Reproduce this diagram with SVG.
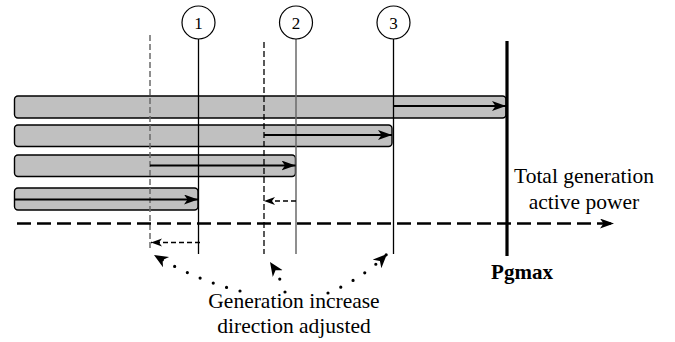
<svg xmlns="http://www.w3.org/2000/svg" width="675" height="342" viewBox="0 0 675 342">
  <style>
    .bar { fill: #c0c0c0; stroke: #000; stroke-width: 1.4; }
    .lvl { stroke: #000; stroke-width: 1.3; fill: none; }
    .lvl-gray { stroke: #6a6a6a; stroke-width: 1.5; fill: none; }
    .shift { stroke: #000; stroke-width: 1.3; stroke-dasharray: 6 3; fill: none; }
    .shift-gray { stroke: #6a6a6a; stroke-width: 1.5; stroke-dasharray: 6 3; fill: none; }
    .push { stroke: #000; stroke-width: 2.2; fill: none; }
    .back { stroke: #000; stroke-width: 1.3; stroke-dasharray: 5 3; fill: none; }
    .axis { stroke: #000; stroke-width: 2.6; stroke-dasharray: 14 6; fill: none; }
    .limit { stroke: #000; stroke-width: 3.2; fill: none; }
    .dots { stroke: #000; stroke-width: 3.2; stroke-linecap: round; stroke-dasharray: 0 14; fill: none; }
    .badge { fill: #fff; stroke: #000; stroke-width: 1.2; }
    .num { font-family: "Liberation Serif", "DejaVu Serif", serif; font-size: 17px; text-anchor: middle; fill: #000; }
    .lbl { font-family: "Liberation Serif", "DejaVu Serif", serif; font-size: 21.5px; text-anchor: middle; fill: #000; }
    .lbl-b { font-family: "Liberation Serif", "DejaVu Serif", serif; font-size: 21px; font-weight: bold; text-anchor: middle; fill: #000; }
  </style>
  <defs>
    <marker id="head" markerUnits="userSpaceOnUse" markerWidth="16" markerHeight="12" refX="14" refY="5" orient="auto">
      <path d="M0,0 L14,5 L0,10 L3.5,5 z" fill="#000"/>
    </marker>
    <marker id="head-sm" markerUnits="userSpaceOnUse" markerWidth="14" markerHeight="10" refX="11" refY="4" orient="auto">
      <path d="M0,0 L11,4 L0,8 L3,4 z" fill="#000"/>
    </marker>
    <marker id="head-dot" markerUnits="userSpaceOnUse" markerWidth="16" markerHeight="14" refX="14" refY="6" orient="auto">
      <path d="M0,0 L14,6 L0,12 L4,6 z" fill="#000"/>
    </marker>
  </defs>

  <!-- generator bars -->
  <g id="bar1"><rect class="bar" x="14.5" y="96" width="491.5" height="22" rx="3.5"/></g>
  <g id="bar2"><rect class="bar" x="14.5" y="125" width="377.5" height="21.5" rx="3.5"/></g>
  <g id="bar3"><rect class="bar" x="14.5" y="155" width="281" height="21.5" rx="3.5"/></g>
  <g id="bar4"><rect class="bar" x="14.5" y="188" width="183.5" height="22" rx="3.5"/></g>

  <!-- numbered levels -->
  <g id="level1">
    <line class="lvl" x1="198.5" y1="39" x2="198.5" y2="254"/>
    <circle class="badge" cx="198.5" cy="22.5" r="16.5"/>
    <text class="num" x="198.5" y="28.5">1</text>
  </g>
  <g id="level2">
    <line class="lvl-gray" x1="296" y1="39" x2="296" y2="254"/>
    <circle class="badge" cx="296" cy="22.5" r="16.5"/>
    <text class="num" x="296" y="28.5">2</text>
  </g>
  <g id="level3">
    <line class="lvl" x1="393.5" y1="39" x2="393.5" y2="254"/>
    <circle class="badge" cx="393.5" cy="22.5" r="16.5"/>
    <text class="num" x="393.5" y="28.5">3</text>
  </g>

  <!-- Pgmax limit -->
  <g id="pgmax">
    <line class="limit" x1="507" y1="41" x2="507" y2="256"/>
    <text class="lbl-b" x="522" y="279">Pgmax</text>
  </g>

  <!-- axis label -->
  <g id="axis-label">
    <text class="lbl" x="584" y="183">Total generation</text>
    <text class="lbl" x="584" y="209">active power</text>
  </g>

  <!-- note -->
  <g id="note">
    <text class="lbl" x="294" y="308">Generation increase</text>
    <text class="lbl" x="294" y="333">direction adjusted</text>
  </g>

  <!-- connectors -->
  <g id="connectors">
    <!-- shifted start lines -->
    <line class="shift-gray" x1="150" y1="35" x2="150" y2="250"/>
    <line class="shift" x1="264" y1="42" x2="264" y2="254"/>

    <!-- total generation axis -->
    <line class="axis" x1="17" y1="223.5" x2="614" y2="223.5" marker-end="url(#head)"/>

    <!-- increase arrows inside bars -->
    <line class="push" x1="14.5" y1="199.5" x2="198" y2="199.5" marker-end="url(#head)"/>
    <line class="push" x1="150" y1="165.5" x2="295.5" y2="165.5" marker-end="url(#head)"/>
    <line class="push" x1="264" y1="135" x2="392" y2="135" marker-end="url(#head)"/>
    <line class="push" x1="393.5" y1="106" x2="506" y2="106" marker-end="url(#head)"/>

    <!-- backward shifts -->
    <line class="back" x1="296" y1="201" x2="264" y2="201" marker-end="url(#head-sm)"/>
    <line class="back" x1="200" y1="242.5" x2="151" y2="242.5" marker-end="url(#head-sm)"/>

    <!-- dotted pointers from the note -->
    <path class="dots" d="M240,291 Q198,281 154,255" marker-end="url(#head-dot)"/>
    <path class="dots" d="M285,292 Q280,277 270,262" marker-end="url(#head-dot)"/>
    <path class="dots" d="M328,293 Q362,279 387,254" marker-end="url(#head-dot)"/>
  </g>
</svg>
